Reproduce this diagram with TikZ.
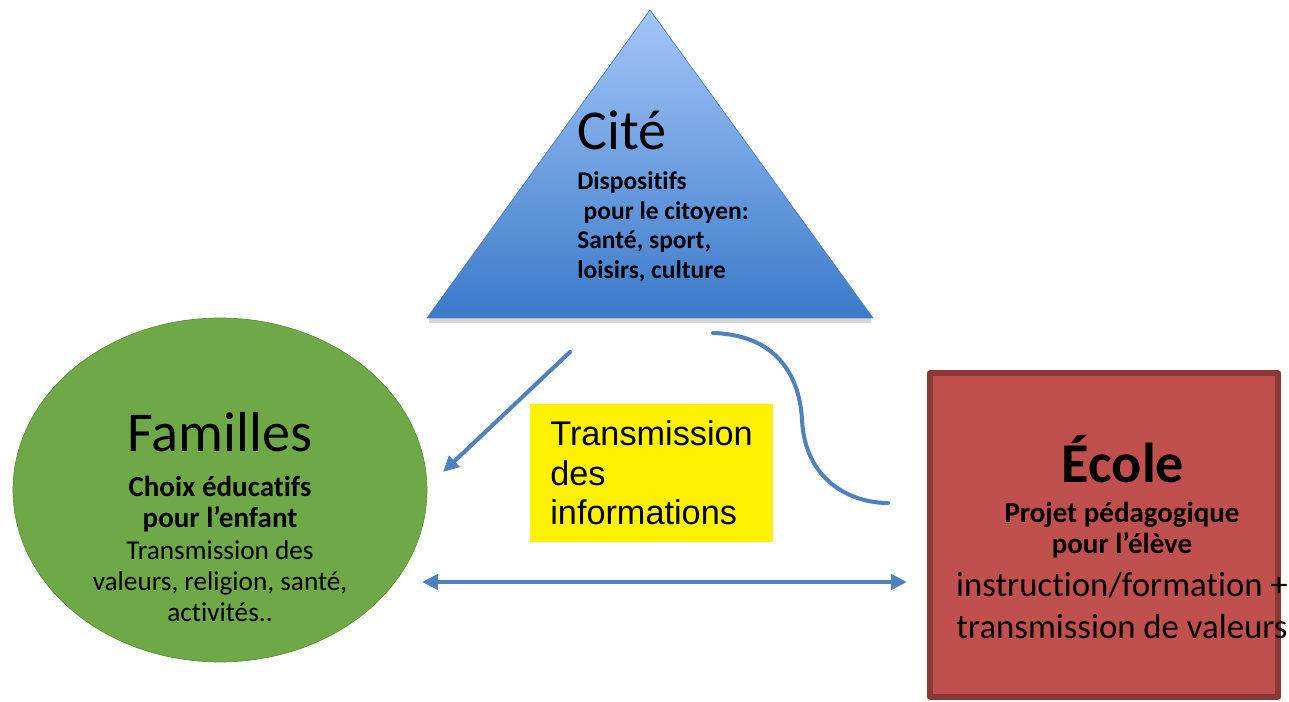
\documentclass[tikz,border=0pt]{standalone}
\usepackage{fontspec}
\setmainfont{Carlito}[Ligatures={TeX,NoCommon}]
\newfontfamily\arialfont{Liberation Sans}
\usetikzlibrary{arrows.meta,positioning,shapes.geometric}
\definecolor{citetop}{HTML}{A3C6F8}
\definecolor{citebot}{HTML}{3B7AC9}
\definecolor{citeedge}{HTML}{4A7EBB}
\definecolor{famgreen}{HTML}{6FA846}
\definecolor{ecolefill}{HTML}{C0504D}
\definecolor{ecoleedge}{HTML}{8C3836}
\definecolor{flowblue}{HTML}{4F81BD}
\tikzset{
  flow/.style={draw=flowblue, line width=2.3pt},
  txt/.style={inner sep=0pt, text=black},
  bigtitle/.style={txt, font=\fontsize{32}{38}\selectfont},
  bodybold/.style={txt, align=center, font=\bfseries\fontsize{16.5}{17.8}\selectfont},
}
\begin{document}
\begin{tikzpicture}[x=.02cm, y=-.02cm, line join=round, line cap=round, >={Triangle[length=9pt,width=8.5pt]}]
		\useasboundingbox (0,0) rectangle (1289,702);
		% la cite
		\coordinate (apex) at (650,10); \coordinate (basel) at (427,318); \coordinate (baser) at (873,318);
		\fill[black!35, opacity=.45] (429,318) rectangle (871,323);
		\shade[top color=citetop, bottom color=citebot, draw=citeedge, line width=.4pt] (apex)--(baser)--(basel)--cycle;
		\node[bigtitle, anchor=base west] (cite) at (577,150) {Cité};
		\node[txt, anchor=north west, align=left, font=\bfseries\fontsize{14.5}{17}\selectfont] (citetxt) at (577,171) {Dispositifs\\\hspace*{.25em}pour le citoyen:\\Santé, sport,\\loisirs, culture};
		% les familles
		\node[ellipse, fill=famgreen, draw=famgreen!85!black, line width=.4pt, minimum width=8.28cm, minimum height=6.88cm] (fam) at (220,490) {};
		\node[bigtitle, anchor=base] (famtitle) at (220,452) {Familles};
		\node[bodybold, anchor=north] (famtxt) at (220,476) {Choix éducatifs\\pour l'enfant};
		\node[txt, align=center, anchor=north, font=\fontsize{15.5}{17.8}\selectfont] (famtxt2) at (220,540) {Transmission des\\valeurs, religion, santé,\\activités..};
		% l'ecole
		\node[draw=ecoleedge, fill=ecolefill, line width=3.4pt, minimum width=6.96cm, minimum height=6.48cm] (ecole) at (1104,535) {};
		\node[bigtitle, anchor=base, font=\bfseries\fontsize{32}{38}\selectfont] (ecoletitle) at (1123,483) {École};
		\node[bodybold, anchor=north] (ecoletxt) at (1122,502) {Projet pédagogique\\pour l'élève};
		\node[txt, align=center, anchor=north, font=\fontsize{19.8}{24}\selectfont] (ecoletxt2) at (1122,572) {instruction/formation +\\transmission de valeurs};
		% transmission
		\node[fill=yellow, minimum width=4.86cm, minimum height=2.76cm] (info) at (651.5,473) {};
		\node[txt, anchor=north west, align=left, font=\arialfont\fontsize{19.5}{22.7}\selectfont] (infotxt) at (550,420) {Transmission\\des\\informations};
		% fleches
		\coordinate (a1s) at (570,352); \coordinate (a1e) at (443,472);
		\draw[flow, ->] (a1s) -- (a1e);
		\coordinate (a2l) at (422,582); \coordinate (a2r) at (907,582);
		\draw[flow, <->] (a2l) -- (a2r);
		\coordinate (c1) at (713,333); \coordinate (c2) at (802,420); \coordinate (c3) at (888,503);
		\draw[flow] (c1) .. controls (780,335) and (800,380) .. (c2) .. controls (805,480) and (850,503) .. (c3);
	\end{tikzpicture}
\end{document}
